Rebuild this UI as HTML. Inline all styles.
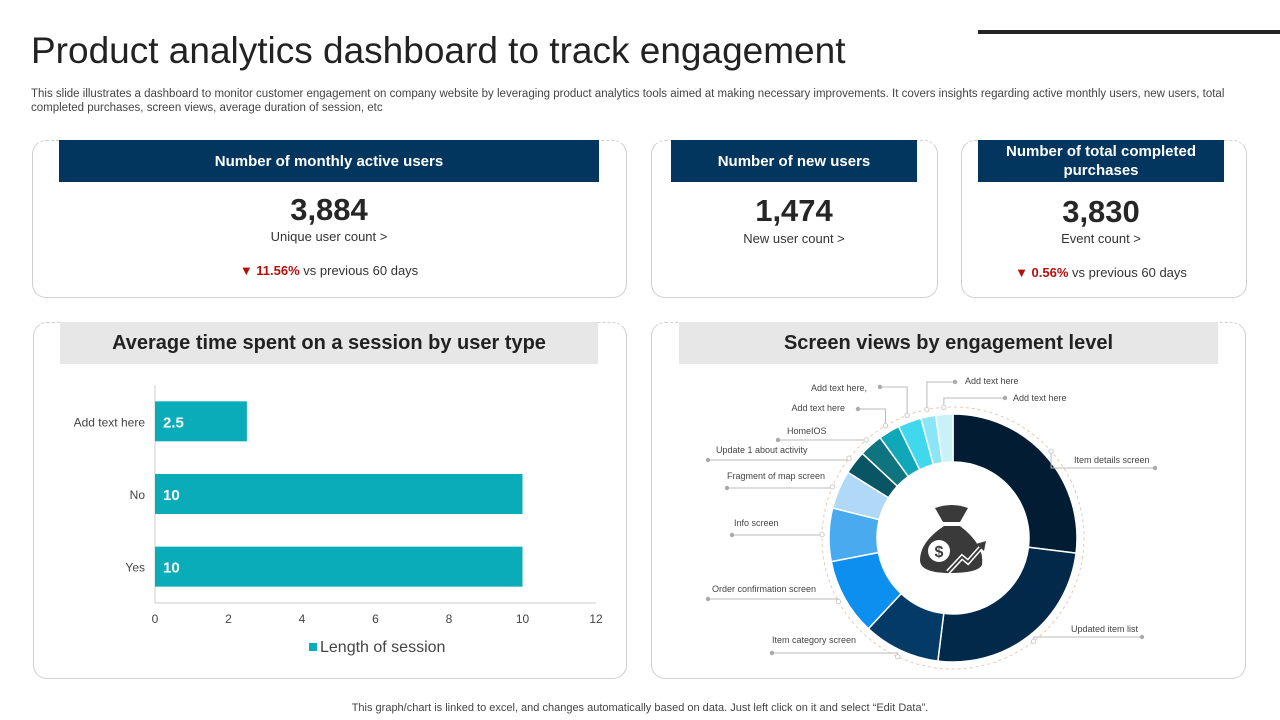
<!DOCTYPE html>
<html><head><meta charset="utf-8"><style>
body{margin:0;width:1280px;height:720px;overflow:hidden;background:#fff;font-family:"Liberation Sans",sans-serif;position:relative}
.abs{position:absolute}
.card{position:absolute;border:1px solid #cfcfcf;border-radius:14px;border-top:1px dashed #cfcfcf;box-sizing:border-box}
.hdr{position:absolute;background:#02365e;color:#fff;font-weight:bold;font-size:15px;display:flex;align-items:center;justify-content:center;text-align:center;line-height:19px}
.ghdr{position:absolute;background:#e7e7e8;color:#222;font-weight:bold;font-size:20px;display:flex;align-items:center;justify-content:center}
.big{position:absolute;font-size:31px;font-weight:bold;color:#262626;text-align:center}
.sub{position:absolute;font-size:13px;color:#333;text-align:center}
.red{color:#b50e0e;font-weight:bold}
</style></head><body>
<div class="abs" style="left:31px;top:30px;font-size:37px;color:#222">Product analytics dashboard to track engagement</div>
<div class="abs" style="left:978px;top:30px;width:302px;height:4px;background:#222"></div>
<div class="abs" style="left:31px;top:87px;width:1212px;font-size:11.5px;color:#444;line-height:14px">This slide illustrates a dashboard to monitor customer engagement on company website by leveraging product analytics tools aimed at making necessary improvements. It covers insights regarding active monthly users, new users, total completed purchases, screen views, average duration of session, etc</div>

<div class="card" style="left:32px;top:140px;width:595px;height:158px"></div>
<div class="hdr" style="left:59px;top:140px;width:540px;height:42px">Number of monthly active users</div>
<div class="big" style="left:59px;width:540px;top:192px">3,884</div>
<div class="sub" style="left:59px;width:540px;top:229px">Unique user count &gt;</div>
<div class="sub" style="left:59px;width:540px;top:263px"><span class="red">▼ 11.56%</span> vs previous 60 days</div>

<div class="card" style="left:651px;top:140px;width:287px;height:158px"></div>
<div class="hdr" style="left:671px;top:140px;width:246px;height:42px">Number of new users</div>
<div class="big" style="left:671px;width:246px;top:193px">1,474</div>
<div class="sub" style="left:671px;width:246px;top:231px">New user count &gt;</div>

<div class="card" style="left:961px;top:140px;width:286px;height:158px"></div>
<div class="hdr" style="left:978px;top:140px;width:246px;height:42px">Number of total completed<br>purchases</div>
<div class="big" style="left:978px;width:246px;top:194px">3,830</div>
<div class="sub" style="left:978px;width:246px;top:231px">Event count &gt;</div>
<div class="sub" style="left:978px;width:246px;top:265px"><span class="red">▼ 0.56%</span> vs previous 60 days</div>

<div class="card" style="left:33px;top:322px;width:594px;height:357px"></div>
<div class="ghdr" style="left:60px;top:322px;width:538px;height:42px">Average time spent on a session by user type</div>
<div class="card" style="left:651px;top:322px;width:595px;height:357px"></div>
<div class="ghdr" style="left:679px;top:322px;width:539px;height:42px">Screen views by engagement level</div>

<svg class="abs" style="left:0;top:0" width="1280" height="720" id="svg"></svg>

<div class="abs" style="left:0;width:1280px;top:702px;text-align:center;font-size:11px;color:#444">This graph/chart is linked to excel,  and changes automatically based on data. Just left click on it and select “Edit Data”.</div>

<script>
const barCategories=["Add text here","No","Yes"];
const barValues=[2.5,10,10];
const xTicks=[0,2,4,6,8,10,12];
const sliceLabels=["Item details screen","Updated item list","Item category screen","Order confirmation screen","Info screen","Fragment of map screen","Update 1 about activity","HomeIOS","Add text here","Add text here,","Add text here","Add text here"];
const sliceValues=[97,90,36,36,25,18,11,11,10,11,7,8];
const sliceColors=["#021d33","#02284a","#033b66","#0d8ff0","#4aaaf0","#b0d8f7","#0a5563","#0e7480","#10a8b8","#3fd8ec","#8ae6f4","#c8f2f8"];
// label layout: [textX, textY, anchor, dotX, lineY]
const labelLayout=[[1074,463,"start",1155,468],[1071,632,"start",1142,637],[772,643,"start",772,653],[712,592,"start",708,599],[734,526,"start",732,535],[727,479,"start",727,488],[716,453,"start",708,460],[787,434,"start",778,440],[845,411,"end",858,409],[867,391,"end",880,387],[965,384,"start",955,382],[1013,401,"start",1005,398]];
const NS="http://www.w3.org/2000/svg";
const svg=document.getElementById('svg');
function mk(t,a,p){const e=document.createElementNS(NS,t);for(const k in a)e.setAttribute(k,a[k]);(p||svg).appendChild(e);return e;}
// bar chart
const x0=155,x1=596,xMax=12;
const xs=v=>x0+(v/xMax)*(x1-x0);
const yTop=385,yBot=603,band=(yBot-yTop)/barCategories.length;
const ys=i=>yTop+band*(i+0.5);
let ax=mk('line',{x1:x0,y1:yTop,x2:x0,y2:yBot,stroke:'#ccc'});

ax=mk('line',{x1:x0,y1:yBot,x2:x1,y2:yBot,stroke:'#ccc'});

xTicks.forEach(t=>{const e=mk('text',{x:xs(t),y:623,'text-anchor':'middle','font-size':12,fill:'#444'});e.textContent=t;
});
barCategories.forEach((c,i)=>{
 const y=ys(i);
 const r=mk('rect',{x:x0,y:y-20,width:xs(barValues[i])-x0,height:40,fill:'#0aacba'});
 
 const l=mk('text',{x:145,y:y+5,'text-anchor':'end','font-size':12,fill:'#444'});l.textContent=c;
 
 const v=mk('text',{x:x0+8,y:y+6,'font-size':15,'font-weight':'bold',fill:'#fff'});v.textContent=barValues[i];
 
});
let lg=mk('rect',{x:309,y:643,width:8,height:8,fill:'#0aacba'});

lg=mk('text',{x:320,y:652,'font-size':16,fill:'#444'});lg.textContent='Length of session';

// donut
const cx=953,cy=538,R=124,r0=76;
const total=sliceValues.reduce((a,b)=>a+b,0);
let ring=mk('circle',{cx,cy,r:131,fill:'none',stroke:'#e8c9b5','stroke-dasharray':'3 3'});

const pt=(a,rr)=>[cx+rr*Math.sin(a),cy-rr*Math.cos(a)];
let acc=0;
sliceValues.forEach((v,i)=>{
 const a0=acc/total*2*Math.PI,a1=(acc+v)/total*2*Math.PI;acc+=v;
 const lf=(a1-a0)>Math.PI?1:0;
 const p0=pt(a0,R),p1=pt(a1,R),q1=pt(a1,r0),q0=pt(a0,r0);
 const s=mk('path',{d:`M${p0}A${R},${R} 0 ${lf} 1 ${p1}L${q1}A${r0},${r0} 0 ${lf} 0 ${q0}Z`,fill:sliceColors[i],stroke:'#fff','stroke-width':1.5});
 
 const m=(a0+a1)/2,an=pt(m,131),L=labelLayout[i];
 const ln=mk('polyline',{points:`${L[3]},${L[4]} ${an[0]},${L[4]} ${an[0]},${an[1]}`,fill:'none',stroke:'#bbb','stroke-width':1});
 
 let d=mk('circle',{cx:L[3],cy:L[4],r:2.2,fill:'#aaa'});
 
 d=mk('circle',{cx:an[0],cy:an[1],r:2.2,fill:'#fff',stroke:'#ccc'});
 
 const t=mk('text',{x:L[0],y:L[1],'text-anchor':L[2],'font-size':9,fill:'#444'});t.textContent=sliceLabels[i];
 
});
// money bag icon
const g=mk('g',{fill:'#3a3a3a'});

mk('path',{d:`M935,508 Q952,502 968,508 L960,522 L943,522 Z`},g);
mk('path',{d:`M944,526 L960,526 Q985,545 982,565 Q978,573 950,573 Q920,573 920,560 Q920,542 944,526 Z`},g);
mk('circle',{cx:939,cy:551,r:11,fill:'#fff'},g);
let dl=mk('text',{x:939,y:557,'text-anchor':'middle','font-size':16,'font-weight':'bold',fill:'#3a3a3a'},g);dl.textContent='$';
mk('polyline',{points:'948,572 962,557 968,562 983,545',fill:'none',stroke:'#fff','stroke-width':5},g);
mk('polyline',{points:'948,572 962,557 968,562 983,545',fill:'none',stroke:'#3a3a3a','stroke-width':2},g);
mk('path',{d:'M986,541 L976,544 L984,551 Z'},g);
</script>
</body></html>
